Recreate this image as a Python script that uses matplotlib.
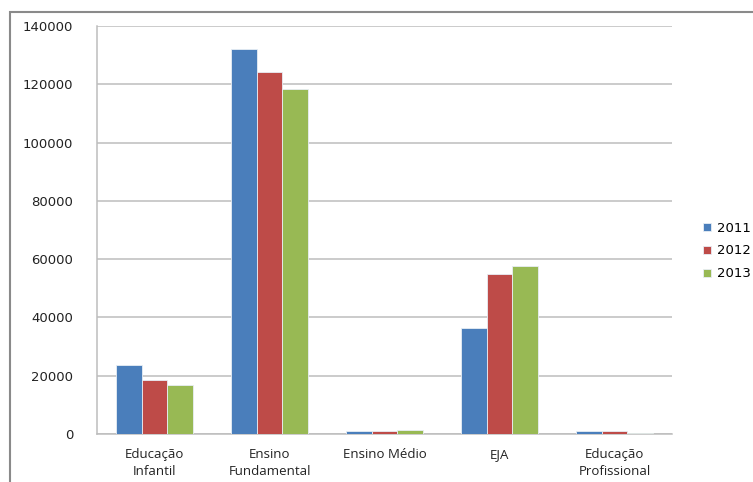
import numpy as np
import matplotlib.pyplot as plt
from matplotlib.patches import Rectangle

categories = ["Educação\nInfantil", "Ensino\nFundamental", "Ensino Médio",
              "EJA", "Educação\nProfissional"]
years = ["2011", "2012", "2013"]
v2011 = [23800, 132000, 1200, 36400, 900]
v2012 = [18600, 124200, 1200, 55000, 900]
v2013 = [16900, 118400, 1400, 57600, 500]
yticks = [0, 20000, 40000, 60000, 80000, 100000, 120000, 140000]

colors = ['#4a7ebb', '#be4b48', '#98b954']
grid_color = '#bdbdbd'

fig = plt.figure(figsize=(7.53, 4.82), dpi=100)
ax = fig.add_axes([97 / 753, 1 - 434 / 482, 575 / 753, 408 / 482])

x = np.arange(len(categories))
width = 0.226
for i, (vals, year) in enumerate(zip([v2011, v2012, v2013], years)):
    ax.bar(x + (i - 1) * width, vals, width, color=colors[i], label=year,
           edgecolor='#e8eef5', linewidth=0.6, zorder=3)

ax.set_xlim(-0.5, len(categories) - 0.5)
ax.set_ylim(0, 140000)
ax.set_yticks(yticks)
ax.set_yticklabels([str(t) for t in yticks], fontsize=9.5, color='#222222',
                   family='DejaVu Sans')
ax.set_xticks(x)
ax.set_xticklabels(categories, fontsize=9.5, family='Open Sans',
                   color='#222222', linespacing=1.45)
ax.tick_params(axis='both', length=0)
ax.tick_params(axis='y', pad=17)
ax.tick_params(axis='x', pad=10)
ax.yaxis.grid(True, color=grid_color, linewidth=1.1, zorder=0)
ax.set_axisbelow(True)
for side in ['top', 'right']:
    ax.spines[side].set_visible(False)
for side in ['left', 'bottom']:
    ax.spines[side].set_color(grid_color)
    ax.spines[side].set_linewidth(1.1)

handles, labels = ax.get_legend_handles_labels()
leg = fig.legend(handles, labels, loc='center left',
                 bbox_to_anchor=(691 / 753, 1 - 251 / 482), frameon=False,
                 prop={'family': 'DejaVu Sans', 'size': 9.5},
                 handlelength=0.6, handleheight=0.6, handletextpad=0.5,
                 labelspacing=0.75)

# outer chart border
fig.patches.append(Rectangle((10 / 753, -0.1), 1.1, 1 - 12 / 482 + 0.1,
                             transform=fig.transFigure, fill=False,
                             edgecolor='#8a8a8a', linewidth=1.5))

fig.savefig('out.png', dpi=100)
